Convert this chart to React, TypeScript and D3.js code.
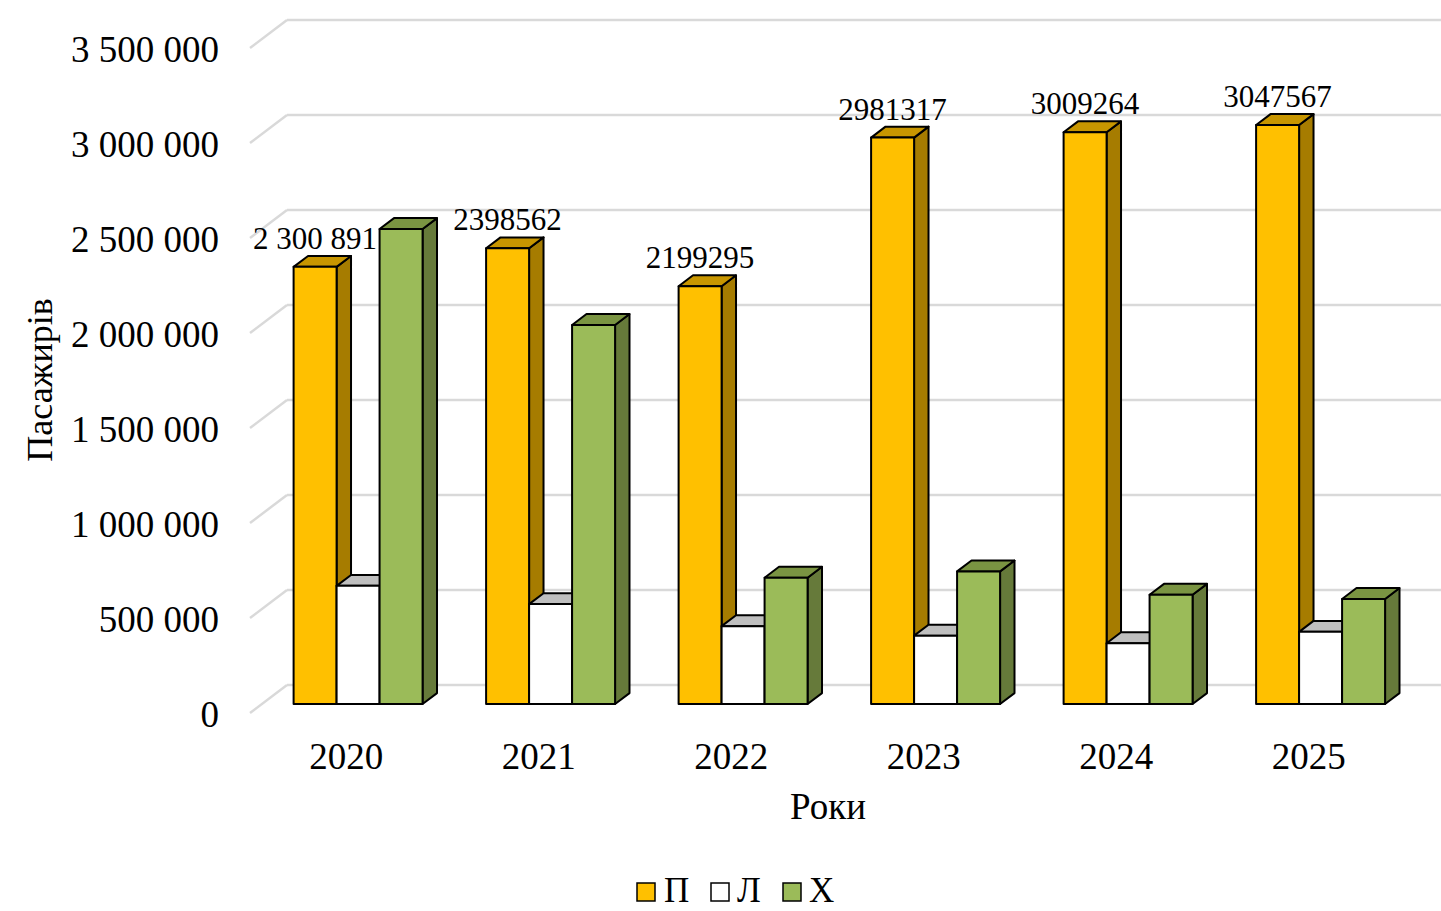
import React from 'react';
import * as d3 from 'd3';

const years = ['2020', '2021', '2022', '2023', '2024', '2025'];
const seriesNames = ['П', 'Л', 'Х'];
const pValues = [2300891, 2398562, 2199295, 2981317, 3009264, 3047567];
const lValues = [622000, 526000, 410000, 360000, 320000, 380000];
const xValues = [2500000, 1995000, 665000, 698000, 575000, 553000];
const pLabels = ['2 300 891', '2398562', '2199295', '2981317', '3009264', '3047567'];
const yTicks = [0, 500000, 1000000, 1500000, 2000000, 2500000, 3000000, 3500000];

const W = 1441;
const H = 911;
const FONT = '"Liberation Serif", "Times New Roman", serif';

const colors = [
  { front: '#FFC000', top: '#C89600', side: '#A67C00' },
  { front: '#FFFFFF', top: '#BFBFBF', side: '#A6A6A6' },
  { front: '#9BBB59', top: '#7A9442', side: '#667A3A' },
];

// depth vector of the floor (front plane -> back wall)
const DX = 37;
const DY = -28;
const T_FRONT = 0.32;
const T_BACK = 0.71;

const proj = (x: number, y: number, t: number): [number, number] => [x + DX * t, y + DY * t];

const fmt = (v: number) => d3.format(',')(v).replace(/,/g, ' ');

export default function App() {
  const x0 = d3.scaleBand<string>().domain(years).range([250, 1405]).paddingInner(0.33).paddingOuter(0.165);
  const x1 = d3.scaleBand<string>().domain(seriesNames).range([0, x0.bandwidth()]);
  const y = d3.scaleLinear().domain([0, 3500000]).range([713, 48]);

  const data = [pValues, lValues, xValues];

  const pts = (arr: [number, number][]) => arr.map((p) => p.join(',')).join(' ');

  const bars: React.ReactNode[] = [];
  years.forEach((yr, i) => {
    seriesNames.forEach((s, j) => {
      const v = data[j][i];
      const xl = (x0(yr) as number) + (x1(s) as number);
      const xr = xl + x1.bandwidth();
      const yt = y(v);
      const yb = y(0);
      const fl = proj(xl, yt, T_FRONT);
      const fr = proj(xr, yt, T_FRONT);
      const frb = proj(xr, yb, T_FRONT);
      const flb = proj(xl, yb, T_FRONT);
      const bl = proj(xl, yt, T_BACK);
      const br = proj(xr, yt, T_BACK);
      const brb = proj(xr, yb, T_BACK);
      const c = colors[j];
      bars.push(
        <g key={`${yr}-${s}`} stroke="#000" strokeWidth={2} strokeLinejoin="round">
          <polygon points={pts([fr, br, brb, frb])} fill={c.side} />
          <polygon points={pts([fl, fr, br, bl])} fill={c.top} />
          <polygon points={pts([fl, fr, frb, flb])} fill={c.front} />
        </g>
      );
    });
  });

  const labels = years.map((yr, i) => {
    const xl = (x0(yr) as number) + (x1('П') as number);
    const cx = xl + x1.bandwidth() / 2 + DX * T_FRONT;
    const topBack = y(pValues[i]) + DY * T_BACK;
    return (
      <text key={`lbl-${yr}`} x={cx} y={topBack - 7} textAnchor="middle" fontSize={31} fontFamily={FONT} fill="#000">
        {pLabels[i]}
      </text>
    );
  });

  const legendItems = [
    { name: seriesNames[0], sx: 637, tx: 664 },
    { name: seriesNames[1], sx: 711, tx: 737 },
    { name: seriesNames[2], sx: 783, tx: 809 },
  ];

  return (
    <svg width={W} height={H} style={{ position: 'absolute', left: 0, top: 0, background: '#fff' }}>
      <rect x={0} y={0} width={W} height={H} fill="#fff" />
      {/* gridlines: side wall + back wall */}
      <g stroke="#D9D9D9" strokeWidth={2.5} fill="none">
        {yTicks.map((t) => {
          const [ax, ay] = [250, y(t)];
          const [bx, by] = proj(250, y(t), 1);
          return (
            <g key={`g-${t}`}>
              <line x1={ax} y1={ay} x2={bx} y2={by} />
              <line x1={bx} y1={by} x2={W} y2={by} />
            </g>
          );
        })}
      </g>
      {/* y tick labels */}
      {yTicks.map((t) => (
        <text key={`t-${t}`} x={219} y={y(t) + 14} textAnchor="end" fontSize={37} fontFamily={FONT} fill="#000">
          {fmt(t)}
        </text>
      ))}
      {bars}
      {labels}
      {/* category labels */}
      {years.map((yr) => (
        <text key={`c-${yr}`} x={(x0(yr) as number) + x0.bandwidth() / 2} y={769} textAnchor="middle" fontSize={37} fontFamily={FONT} fill="#000">
          {yr}
        </text>
      ))}
      {/* axis titles */}
      <text x={828} y={819} textAnchor="middle" fontSize={37} fontFamily={FONT} fill="#000">Роки</text>
      <text transform="translate(52,380) rotate(-90)" textAnchor="middle" fontSize={36} fontFamily={FONT} fill="#000">Пасажирів</text>
      {/* legend */}
      {legendItems.map((it, k) => (
        <g key={`leg-${k}`}>
          <rect x={it.sx} y={883} width={18} height={18} fill={colors[k].front} stroke="#000" strokeWidth={1.5} />
          <text x={it.tx} y={902} fontSize={35} fontFamily={FONT} fill="#000">{it.name}</text>
        </g>
      ))}
    </svg>
  );
}
